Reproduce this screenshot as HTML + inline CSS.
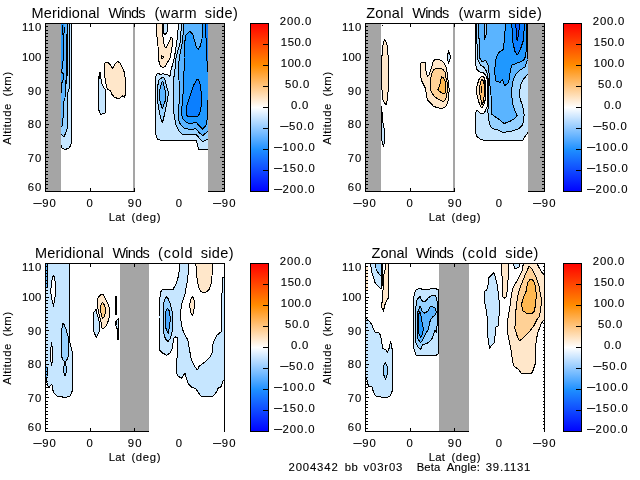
<!DOCTYPE html>
<html lang="en"><head><meta charset="utf-8"><title>Winds</title>
<style>html,body{margin:0;padding:0;background:#fff;overflow:hidden}svg{display:block}text{font-family:'Liberation Sans', sans-serif;fill:#000;stroke:#000;stroke-width:0.12px}.tt{stroke:none}</style></head><body>
<svg width="640" height="480" viewBox="0 0 640 480">
<defs><linearGradient id="cb" x1="0" y1="0" x2="0" y2="1">
<stop offset="0.000" stop-color="rgb(255,0,0)"/>
<stop offset="0.250" stop-color="rgb(255,140,0)"/>
<stop offset="0.500" stop-color="rgb(255,255,255)"/>
<stop offset="0.750" stop-color="rgb(30,144,255)"/>
<stop offset="1.000" stop-color="rgb(0,0,255)"/>
</linearGradient>
<clipPath id="cl0"><rect x="61" y="24" width="73" height="167"/></clipPath>
<clipPath id="cr0"><rect x="135" y="24" width="73" height="168"/></clipPath>
<clipPath id="cl1"><rect x="381" y="24" width="73" height="167"/></clipPath>
<clipPath id="cr1"><rect x="455" y="24" width="73" height="168"/></clipPath>
<clipPath id="cl2"><rect x="46" y="264" width="74" height="167"/></clipPath>
<clipPath id="cr2"><rect x="149" y="264" width="75" height="168"/></clipPath>
<clipPath id="cl3"><rect x="366" y="264" width="73" height="167"/></clipPath>
<clipPath id="cr3"><rect x="469" y="264" width="75" height="168"/></clipPath>
</defs>
<rect x="0" y="0" width="640" height="480" fill="#fff"/>
<g shape-rendering="crispEdges">
<rect x="46" y="24" width="15" height="167" fill="#a5a5a5"/>
<rect x="208" y="24" width="16" height="167" fill="#a5a5a5"/>
<g clip-path="url(#cl0)">
<polygon points="58.0,20.0 71.5,20.0 71.5,142.0 70.5,146.0 68.5,148.5 64.5,149.5 62.0,148.0 61.4,145.0 58.0,145.0" fill="#c6e6ff" stroke="#000" stroke-width="1" stroke-linejoin="bevel"/>
<polygon points="58.0,20.0 69.5,20.0 69.5,88.0 68.0,92.0 67.5,128.0 66.0,132.0 64.0,137.0 62.0,135.0 58.0,133.0" fill="#96d1ff" stroke="#000" stroke-width="1" stroke-linejoin="bevel"/>
<polygon points="58.0,20.0 67.5,20.0 67.5,70.0 66.5,82.0 65.5,86.0 65.0,98.0 63.5,102.0 63.0,118.0 62.0,126.0 58.0,127.0" fill="#5ab4ff" stroke="#000" stroke-width="1" stroke-linejoin="bevel"/>
<polyline points="66.5,34.0 66.5,76.0 65.5,84.0" fill="none" stroke="#000" stroke-width="1" stroke-linejoin="bevel"/>
<polygon points="58.0,20.0 64.5,20.0 64.5,32.4 63.5,34.5 63.5,60.0 62.5,62.0 62.5,68.0 61.5,70.0 61.5,72.0 58.0,72.0" fill="#1f98ff" stroke="#000" stroke-width="1" stroke-linejoin="bevel"/>
<polyline points="62.5,25.0 62.5,34.5" fill="none" stroke="#000" stroke-width="1" stroke-linejoin="bevel"/>
<rect x="64" y="24" width="1" height="3" fill="#4fb0ff"/>
<rect x="64" y="33" width="1" height="1" fill="#4fb0ff"/>
<polygon points="58.0,72.0 62.5,72.0 63.6,75.0 63.5,79.0 62.5,81.0 61.5,84.0 61.5,92.0 58.0,93.0" fill="#2ba0ff" stroke="#000" stroke-width="1" stroke-linejoin="bevel"/>
<polygon points="99.8,72.3 100.8,78.0 102.2,85.0 105.0,89.2 105.7,95.0 105.8,108.0 105.0,113.5 100.5,114.3 98.8,110.0 98.2,100.0 98.3,80.0" fill="#c6e6ff" stroke="#000" stroke-width="1" stroke-linejoin="bevel"/>
<polyline points="99.9,72.5 100.2,79.0" fill="none" stroke="#000" stroke-width="1.6" stroke-linejoin="bevel"/>
<polygon points="104.5,63.9 105.5,62.3 107.3,62.3 109.7,63.9 112.3,68.6 115.3,63.9 117.4,61.4 120.0,63.0 122.3,67.2 124.5,72.8 125.4,79.4 125.6,87.8 125.4,93.4 124.7,97.2 122.8,95.8 120.0,98.1 118.1,98.6 114.4,97.2 112.0,94.4 110.8,91.1 107.3,89.2 105.9,83.1 104.5,75.6 104.1,69.1" fill="#ffe7ca" stroke="#000" stroke-width="1" stroke-linejoin="bevel"/>
</g>
<rect x="45" y="23" width="180" height="1" fill="#000"/>
<rect x="45" y="191" width="180" height="1" fill="#000"/>
<rect x="45" y="23" width="1" height="169" fill="#000"/>
<rect x="224" y="23" width="1" height="169" fill="#000"/>
<rect x="46" y="23" width="3" height="1" fill="#000"/>
<rect x="220" y="23" width="4" height="1" fill="#000"/>
<rect x="46" y="26" width="2" height="1" fill="#000"/>
<rect x="222" y="26" width="2" height="1" fill="#000"/>
<rect x="46" y="30" width="2" height="1" fill="#000"/>
<rect x="222" y="30" width="2" height="1" fill="#000"/>
<rect x="46" y="33" width="2" height="1" fill="#000"/>
<rect x="222" y="33" width="2" height="1" fill="#000"/>
<rect x="46" y="36" width="2" height="1" fill="#000"/>
<rect x="222" y="36" width="2" height="1" fill="#000"/>
<rect x="46" y="40" width="2" height="1" fill="#000"/>
<rect x="222" y="40" width="2" height="1" fill="#000"/>
<rect x="46" y="43" width="2" height="1" fill="#000"/>
<rect x="222" y="43" width="2" height="1" fill="#000"/>
<rect x="46" y="47" width="2" height="1" fill="#000"/>
<rect x="222" y="47" width="2" height="1" fill="#000"/>
<rect x="46" y="50" width="2" height="1" fill="#000"/>
<rect x="222" y="50" width="2" height="1" fill="#000"/>
<rect x="46" y="53" width="2" height="1" fill="#000"/>
<rect x="222" y="53" width="2" height="1" fill="#000"/>
<rect x="46" y="57" width="3" height="1" fill="#000"/>
<rect x="220" y="57" width="4" height="1" fill="#000"/>
<rect x="46" y="60" width="2" height="1" fill="#000"/>
<rect x="222" y="60" width="2" height="1" fill="#000"/>
<rect x="46" y="63" width="2" height="1" fill="#000"/>
<rect x="222" y="63" width="2" height="1" fill="#000"/>
<rect x="46" y="67" width="2" height="1" fill="#000"/>
<rect x="222" y="67" width="2" height="1" fill="#000"/>
<rect x="46" y="70" width="2" height="1" fill="#000"/>
<rect x="222" y="70" width="2" height="1" fill="#000"/>
<rect x="46" y="73" width="2" height="1" fill="#000"/>
<rect x="222" y="73" width="2" height="1" fill="#000"/>
<rect x="46" y="77" width="2" height="1" fill="#000"/>
<rect x="222" y="77" width="2" height="1" fill="#000"/>
<rect x="46" y="80" width="2" height="1" fill="#000"/>
<rect x="222" y="80" width="2" height="1" fill="#000"/>
<rect x="46" y="83" width="2" height="1" fill="#000"/>
<rect x="222" y="83" width="2" height="1" fill="#000"/>
<rect x="46" y="87" width="2" height="1" fill="#000"/>
<rect x="222" y="87" width="2" height="1" fill="#000"/>
<rect x="46" y="90" width="3" height="1" fill="#000"/>
<rect x="220" y="90" width="4" height="1" fill="#000"/>
<rect x="46" y="94" width="2" height="1" fill="#000"/>
<rect x="222" y="94" width="2" height="1" fill="#000"/>
<rect x="46" y="97" width="2" height="1" fill="#000"/>
<rect x="222" y="97" width="2" height="1" fill="#000"/>
<rect x="46" y="100" width="2" height="1" fill="#000"/>
<rect x="222" y="100" width="2" height="1" fill="#000"/>
<rect x="46" y="104" width="2" height="1" fill="#000"/>
<rect x="222" y="104" width="2" height="1" fill="#000"/>
<rect x="46" y="107" width="2" height="1" fill="#000"/>
<rect x="222" y="107" width="2" height="1" fill="#000"/>
<rect x="46" y="110" width="2" height="1" fill="#000"/>
<rect x="222" y="110" width="2" height="1" fill="#000"/>
<rect x="46" y="114" width="2" height="1" fill="#000"/>
<rect x="222" y="114" width="2" height="1" fill="#000"/>
<rect x="46" y="117" width="2" height="1" fill="#000"/>
<rect x="222" y="117" width="2" height="1" fill="#000"/>
<rect x="46" y="120" width="2" height="1" fill="#000"/>
<rect x="222" y="120" width="2" height="1" fill="#000"/>
<rect x="46" y="124" width="3" height="1" fill="#000"/>
<rect x="220" y="124" width="4" height="1" fill="#000"/>
<rect x="46" y="127" width="2" height="1" fill="#000"/>
<rect x="222" y="127" width="2" height="1" fill="#000"/>
<rect x="46" y="131" width="2" height="1" fill="#000"/>
<rect x="222" y="131" width="2" height="1" fill="#000"/>
<rect x="46" y="134" width="2" height="1" fill="#000"/>
<rect x="222" y="134" width="2" height="1" fill="#000"/>
<rect x="46" y="137" width="2" height="1" fill="#000"/>
<rect x="222" y="137" width="2" height="1" fill="#000"/>
<rect x="46" y="141" width="2" height="1" fill="#000"/>
<rect x="222" y="141" width="2" height="1" fill="#000"/>
<rect x="46" y="144" width="2" height="1" fill="#000"/>
<rect x="222" y="144" width="2" height="1" fill="#000"/>
<rect x="46" y="147" width="2" height="1" fill="#000"/>
<rect x="222" y="147" width="2" height="1" fill="#000"/>
<rect x="46" y="151" width="2" height="1" fill="#000"/>
<rect x="222" y="151" width="2" height="1" fill="#000"/>
<rect x="46" y="154" width="2" height="1" fill="#000"/>
<rect x="222" y="154" width="2" height="1" fill="#000"/>
<rect x="46" y="157" width="3" height="1" fill="#000"/>
<rect x="220" y="157" width="4" height="1" fill="#000"/>
<rect x="46" y="161" width="2" height="1" fill="#000"/>
<rect x="222" y="161" width="2" height="1" fill="#000"/>
<rect x="46" y="164" width="2" height="1" fill="#000"/>
<rect x="222" y="164" width="2" height="1" fill="#000"/>
<rect x="46" y="167" width="2" height="1" fill="#000"/>
<rect x="222" y="167" width="2" height="1" fill="#000"/>
<rect x="46" y="171" width="2" height="1" fill="#000"/>
<rect x="222" y="171" width="2" height="1" fill="#000"/>
<rect x="46" y="174" width="2" height="1" fill="#000"/>
<rect x="222" y="174" width="2" height="1" fill="#000"/>
<rect x="46" y="178" width="2" height="1" fill="#000"/>
<rect x="222" y="178" width="2" height="1" fill="#000"/>
<rect x="46" y="181" width="2" height="1" fill="#000"/>
<rect x="222" y="181" width="2" height="1" fill="#000"/>
<rect x="46" y="184" width="2" height="1" fill="#000"/>
<rect x="222" y="184" width="2" height="1" fill="#000"/>
<rect x="46" y="188" width="2" height="1" fill="#000"/>
<rect x="222" y="188" width="2" height="1" fill="#000"/>
<rect x="46" y="191" width="3" height="1" fill="#000"/>
<rect x="220" y="191" width="4" height="1" fill="#000"/>
<rect x="90" y="24" width="1" height="3" fill="#000"/>
<rect x="90" y="188" width="1" height="3" fill="#000"/>
<rect x="179" y="24" width="1" height="3" fill="#000"/>
<rect x="179" y="188" width="1" height="3" fill="#000"/>
<text y="31" font-size="11.3"><tspan x="21.9" textLength="19.4" lengthAdjust="spacing">110</tspan></text>
<text y="61.1" font-size="11.3"><tspan x="21.9" textLength="19.4" lengthAdjust="spacing">100</tspan></text>
<text y="94.6" font-size="11.3"><tspan x="27.7" textLength="13.6" lengthAdjust="spacing">90</tspan></text>
<text y="128.2" font-size="11.3"><tspan x="27.7" textLength="13.6" lengthAdjust="spacing">80</tspan></text>
<text y="161.6" font-size="11.3"><tspan x="27.7" textLength="13.6" lengthAdjust="spacing">70</tspan></text>
<text y="191.4" font-size="11.3"><tspan x="27.7" textLength="13.6" lengthAdjust="spacing">60</tspan></text>
<text y="207.3" font-size="11.3"><tspan x="32.3" dy="-1" textLength="10.7" lengthAdjust="spacingAndGlyphs">-</tspan><tspan x="42.2" dy="1" textLength="13.7" lengthAdjust="spacing">90</tspan></text>
<text y="207.3" font-size="11.3"><tspan x="86.4" textLength="6.8" lengthAdjust="spacing">0</tspan></text>
<text y="207.3" font-size="11.3"><tspan x="127.7" textLength="13.8" lengthAdjust="spacing">90</tspan></text>
<text y="207.3" font-size="11.3"><tspan x="175.7" textLength="6.8" lengthAdjust="spacing">0</tspan></text>
<text y="207.3" font-size="11.3"><tspan x="211.9" dy="-1" textLength="10.7" lengthAdjust="spacingAndGlyphs">-</tspan><tspan x="221.8" dy="1" textLength="13.7" lengthAdjust="spacing">90</tspan></text>
<text y="221" font-size="11.3"><tspan x="108.8" textLength="16.2" lengthAdjust="spacing">Lat</tspan> <tspan x="131.4" textLength="29.2" lengthAdjust="spacing">(deg)</tspan></text>
<text transform="translate(10.7 144.8) rotate(-90)" y="0" font-size="11.3"><tspan x="0.0" textLength="41.0" lengthAdjust="spacing">Altitude</tspan> <tspan x="48.2" textLength="24.8" lengthAdjust="spacing">(km)</tspan></text>
<text class="tt" y="18" font-size="14.5"><tspan x="31.6" textLength="68.0" lengthAdjust="spacing">Meridional</tspan> <tspan x="108.5" textLength="37.0" lengthAdjust="spacing">Winds</tspan> <tspan x="154.6" textLength="42.0" lengthAdjust="spacing">(warm</tspan> <tspan x="204.8" textLength="33.0" lengthAdjust="spacing">side)</tspan></text>
<rect x="135" y="24" width="73" height="168" fill="#fff"/>
<g clip-path="url(#cr0)">
<polygon points="179.0,20.0 176.7,43.0 174.3,58.0 170.8,71.0 170.0,76.4 168.2,75.0 163.4,73.8 160.8,74.2 158.1,73.8 156.4,74.2 155.5,78.0 155.6,134.0 157.5,139.6 162.5,140.5 196.2,140.7 197.5,145.0 199.0,149.6 212.0,149.6 212.0,20.0" fill="#c6e6ff" stroke="#000" stroke-width="1" stroke-linejoin="bevel"/>
<polygon points="182.0,20.0 180.0,43.0 176.0,58.0 174.8,71.0 173.4,80.8 173.0,87.0 173.0,100.0 173.5,108.8 174.4,117.5 176.1,125.4 178.8,130.6 182.2,134.1 189.2,135.0 196.2,134.6 198.9,137.6 202.8,141.8 206.2,140.0 212.0,138.5 212.0,20.0" fill="#96d1ff" stroke="#000" stroke-width="1" stroke-linejoin="bevel"/>
<polygon points="184.3,20.0 182.3,43.0 179.1,58.0 178.7,71.0 179.0,80.0 179.4,100.0 178.5,108.8 178.8,120.0 180.0,123.6 184.0,128.0 189.2,129.3 196.2,128.9 198.9,132.4 202.8,135.8 206.8,132.0 212.0,129.8 212.0,20.0" fill="#5ab4ff" stroke="#000" stroke-width="1" stroke-linejoin="bevel"/>
<polygon points="202.5,20.0 202.0,38.8 200.2,46.2 198.3,49.5 196.4,47.2 194.5,40.6 192.7,34.0 189.8,31.2 186.0,35.0 184.5,43.4 184.0,58.0 184.0,71.0 183.5,80.0 182.8,100.0 181.6,108.8 181.6,114.9 183.1,119.2 186.6,122.8 191.0,123.6 196.2,122.3 198.9,125.4 202.4,129.2 205.9,125.4 207.6,117.5 212.0,113.0 212.0,20.0" fill="#1f98ff" stroke="#000" stroke-width="1" stroke-linejoin="bevel"/>
<polygon points="205.6,20.0 206.2,45.0 207.5,71.0 212.0,74.0 212.0,20.0" fill="#0b7fff" stroke="#000" stroke-width="1" stroke-linejoin="bevel"/>
<polyline points="207.6,100.0 207.6,117.0" fill="none" stroke="#000" stroke-width="1" stroke-linejoin="bevel"/>
<polygon points="196.9,79.4 193.8,85.0 190.0,96.2 187.0,105.0 186.6,114.9 187.9,116.6 191.0,117.0 198.0,116.2 199.8,113.0 201.0,107.0 201.6,100.0 200.8,87.5 199.4,81.2 198.0,79.4" fill="#0b7fff" stroke="#000" stroke-width="1" stroke-linejoin="bevel"/>
<polygon points="162.5,77.2 159.0,79.9 157.7,86.0 157.4,100.0 159.4,112.5 161.9,122.2 162.6,122.2 165.0,112.5 167.5,100.0 168.5,92.5 166.4,86.0 165.1,79.9 163.5,77.5" fill="#96d1ff" stroke="#000" stroke-width="1" stroke-linejoin="bevel"/>
<polygon points="162.3,81.6 160.3,86.9 159.5,93.0 159.7,100.0 162.3,108.8 165.6,100.0 166.0,93.0 164.2,86.9 163.0,82.0" fill="#5ab4ff" stroke="#000" stroke-width="1" stroke-linejoin="bevel"/>
<polygon points="156.6,20.0 156.6,35.0 157.5,38.8 158.0,46.2 158.4,57.5 159.4,64.0 160.5,66.5 162.5,67.4 165.0,66.6 166.9,63.0 168.3,61.2 170.2,57.5 171.6,50.0 172.5,43.4 172.5,38.8 171.1,37.3 168.8,42.5 166.4,47.2 165.0,47.2 163.6,42.5 162.7,34.0 162.6,20.0" fill="#ffe7ca" stroke="#000" stroke-width="1" stroke-linejoin="bevel"/>
<polygon points="161.5,55.8 163.2,56.2 163.6,57.6 162.4,58.6 161.0,57.6" fill="#ffe7ca" stroke="#000" stroke-width="1" stroke-linejoin="bevel"/>
<polygon points="163.3,20.0 163.4,33.0 165.0,34.5 167.3,32.0 167.6,20.0" fill="#c6e6ff" stroke="#000" stroke-width="1" stroke-linejoin="bevel"/>
</g>
<rect x="133" y="24" width="2" height="167" fill="#a5a5a5"/>
<rect x="134" y="24" width="1" height="3" fill="#000"/>
<rect x="134" y="188" width="1" height="3" fill="#000"/>
</g>
<g shape-rendering="crispEdges">
<rect x="366" y="24" width="15" height="167" fill="#a5a5a5"/>
<rect x="528" y="24" width="16" height="167" fill="#a5a5a5"/>
<g clip-path="url(#cl1)">
<polygon points="384.4,39.4 382.5,47.5 381.9,57.5 381.6,80.0 382.0,90.0 382.6,98.8 384.5,103.0 386.2,105.2 387.5,98.8 388.2,90.0 388.9,80.0 388.8,63.8 388.0,55.0 386.9,43.8 385.5,40.5" fill="#ffe7ca" stroke="#000" stroke-width="1" stroke-linejoin="bevel"/>
<polygon points="381.7,106.0 381.7,120.0 381.8,140.0 382.5,143.0 383.6,146.5 384.6,140.0 384.4,130.0 383.0,123.0 382.3,118.0" fill="#c6e6ff" stroke="#000" stroke-width="1" stroke-linejoin="bevel"/>
<polyline points="382.3,25.0 383.0,26.0" fill="none" stroke="#000" stroke-width="1.4" stroke-linejoin="bevel"/>
<polygon points="448.4,50.5 447.5,57.5 448.4,64.0 450.8,57.0" fill="#c6e6ff" stroke="#000" stroke-width="1" stroke-linejoin="bevel"/>
<polygon points="420.3,64.1 421.7,62.4 425.0,62.4 425.5,65.0 425.9,70.6 427.3,76.2 428.8,75.3 431.1,68.8 433.0,62.2 434.8,59.4 438.1,59.4 441.9,60.8 444.7,64.0 446.6,68.8 447.5,76.2 448.4,82.8 449.2,90.0 448.9,94.0 448.0,100.6 446.6,105.3 444.7,107.7 440.9,108.3 437.2,107.7 433.4,106.2 430.2,102.5 427.3,99.7 426.4,94.0 425.0,87.5 422.7,82.8 421.7,81.0 420.3,75.3" fill="#ffe7ca" stroke="#000" stroke-width="1" stroke-linejoin="bevel"/>
<polygon points="430.2,81.0 431.6,74.4 433.4,69.7 435.3,68.8 440.0,68.3 442.8,69.2 445.2,72.5 446.1,78.1 447.3,82.8 447.6,88.0 447.0,93.1 446.1,97.8 444.2,101.1 441.9,101.1 439.1,99.7 434.8,96.9 432.0,93.1 430.2,89.4" fill="#ffd196" stroke="#000" stroke-width="1" stroke-linejoin="bevel"/>
<polygon points="441.4,76.7 440.5,81.9 439.5,85.6 437.9,89.8 440.0,91.7 442.8,93.6 444.7,94.0 445.6,90.3 445.8,84.0 445.2,81.9 443.8,78.1" fill="#ffb850" stroke="#000" stroke-width="1" stroke-linejoin="bevel"/>
</g>
<rect x="365" y="23" width="180" height="1" fill="#000"/>
<rect x="365" y="191" width="180" height="1" fill="#000"/>
<rect x="365" y="23" width="1" height="169" fill="#000"/>
<rect x="544" y="23" width="1" height="169" fill="#000"/>
<rect x="366" y="23" width="3" height="1" fill="#000"/>
<rect x="540" y="23" width="4" height="1" fill="#000"/>
<rect x="366" y="26" width="2" height="1" fill="#000"/>
<rect x="542" y="26" width="2" height="1" fill="#000"/>
<rect x="366" y="30" width="2" height="1" fill="#000"/>
<rect x="542" y="30" width="2" height="1" fill="#000"/>
<rect x="366" y="33" width="2" height="1" fill="#000"/>
<rect x="542" y="33" width="2" height="1" fill="#000"/>
<rect x="366" y="36" width="2" height="1" fill="#000"/>
<rect x="542" y="36" width="2" height="1" fill="#000"/>
<rect x="366" y="40" width="2" height="1" fill="#000"/>
<rect x="542" y="40" width="2" height="1" fill="#000"/>
<rect x="366" y="43" width="2" height="1" fill="#000"/>
<rect x="542" y="43" width="2" height="1" fill="#000"/>
<rect x="366" y="47" width="2" height="1" fill="#000"/>
<rect x="542" y="47" width="2" height="1" fill="#000"/>
<rect x="366" y="50" width="2" height="1" fill="#000"/>
<rect x="542" y="50" width="2" height="1" fill="#000"/>
<rect x="366" y="53" width="2" height="1" fill="#000"/>
<rect x="542" y="53" width="2" height="1" fill="#000"/>
<rect x="366" y="57" width="3" height="1" fill="#000"/>
<rect x="540" y="57" width="4" height="1" fill="#000"/>
<rect x="366" y="60" width="2" height="1" fill="#000"/>
<rect x="542" y="60" width="2" height="1" fill="#000"/>
<rect x="366" y="63" width="2" height="1" fill="#000"/>
<rect x="542" y="63" width="2" height="1" fill="#000"/>
<rect x="366" y="67" width="2" height="1" fill="#000"/>
<rect x="542" y="67" width="2" height="1" fill="#000"/>
<rect x="366" y="70" width="2" height="1" fill="#000"/>
<rect x="542" y="70" width="2" height="1" fill="#000"/>
<rect x="366" y="73" width="2" height="1" fill="#000"/>
<rect x="542" y="73" width="2" height="1" fill="#000"/>
<rect x="366" y="77" width="2" height="1" fill="#000"/>
<rect x="542" y="77" width="2" height="1" fill="#000"/>
<rect x="366" y="80" width="2" height="1" fill="#000"/>
<rect x="542" y="80" width="2" height="1" fill="#000"/>
<rect x="366" y="83" width="2" height="1" fill="#000"/>
<rect x="542" y="83" width="2" height="1" fill="#000"/>
<rect x="366" y="87" width="2" height="1" fill="#000"/>
<rect x="542" y="87" width="2" height="1" fill="#000"/>
<rect x="366" y="90" width="3" height="1" fill="#000"/>
<rect x="540" y="90" width="4" height="1" fill="#000"/>
<rect x="366" y="94" width="2" height="1" fill="#000"/>
<rect x="542" y="94" width="2" height="1" fill="#000"/>
<rect x="366" y="97" width="2" height="1" fill="#000"/>
<rect x="542" y="97" width="2" height="1" fill="#000"/>
<rect x="366" y="100" width="2" height="1" fill="#000"/>
<rect x="542" y="100" width="2" height="1" fill="#000"/>
<rect x="366" y="104" width="2" height="1" fill="#000"/>
<rect x="542" y="104" width="2" height="1" fill="#000"/>
<rect x="366" y="107" width="2" height="1" fill="#000"/>
<rect x="542" y="107" width="2" height="1" fill="#000"/>
<rect x="366" y="110" width="2" height="1" fill="#000"/>
<rect x="542" y="110" width="2" height="1" fill="#000"/>
<rect x="366" y="114" width="2" height="1" fill="#000"/>
<rect x="542" y="114" width="2" height="1" fill="#000"/>
<rect x="366" y="117" width="2" height="1" fill="#000"/>
<rect x="542" y="117" width="2" height="1" fill="#000"/>
<rect x="366" y="120" width="2" height="1" fill="#000"/>
<rect x="542" y="120" width="2" height="1" fill="#000"/>
<rect x="366" y="124" width="3" height="1" fill="#000"/>
<rect x="540" y="124" width="4" height="1" fill="#000"/>
<rect x="366" y="127" width="2" height="1" fill="#000"/>
<rect x="542" y="127" width="2" height="1" fill="#000"/>
<rect x="366" y="131" width="2" height="1" fill="#000"/>
<rect x="542" y="131" width="2" height="1" fill="#000"/>
<rect x="366" y="134" width="2" height="1" fill="#000"/>
<rect x="542" y="134" width="2" height="1" fill="#000"/>
<rect x="366" y="137" width="2" height="1" fill="#000"/>
<rect x="542" y="137" width="2" height="1" fill="#000"/>
<rect x="366" y="141" width="2" height="1" fill="#000"/>
<rect x="542" y="141" width="2" height="1" fill="#000"/>
<rect x="366" y="144" width="2" height="1" fill="#000"/>
<rect x="542" y="144" width="2" height="1" fill="#000"/>
<rect x="366" y="147" width="2" height="1" fill="#000"/>
<rect x="542" y="147" width="2" height="1" fill="#000"/>
<rect x="366" y="151" width="2" height="1" fill="#000"/>
<rect x="542" y="151" width="2" height="1" fill="#000"/>
<rect x="366" y="154" width="2" height="1" fill="#000"/>
<rect x="542" y="154" width="2" height="1" fill="#000"/>
<rect x="366" y="157" width="3" height="1" fill="#000"/>
<rect x="540" y="157" width="4" height="1" fill="#000"/>
<rect x="366" y="161" width="2" height="1" fill="#000"/>
<rect x="542" y="161" width="2" height="1" fill="#000"/>
<rect x="366" y="164" width="2" height="1" fill="#000"/>
<rect x="542" y="164" width="2" height="1" fill="#000"/>
<rect x="366" y="167" width="2" height="1" fill="#000"/>
<rect x="542" y="167" width="2" height="1" fill="#000"/>
<rect x="366" y="171" width="2" height="1" fill="#000"/>
<rect x="542" y="171" width="2" height="1" fill="#000"/>
<rect x="366" y="174" width="2" height="1" fill="#000"/>
<rect x="542" y="174" width="2" height="1" fill="#000"/>
<rect x="366" y="178" width="2" height="1" fill="#000"/>
<rect x="542" y="178" width="2" height="1" fill="#000"/>
<rect x="366" y="181" width="2" height="1" fill="#000"/>
<rect x="542" y="181" width="2" height="1" fill="#000"/>
<rect x="366" y="184" width="2" height="1" fill="#000"/>
<rect x="542" y="184" width="2" height="1" fill="#000"/>
<rect x="366" y="188" width="2" height="1" fill="#000"/>
<rect x="542" y="188" width="2" height="1" fill="#000"/>
<rect x="366" y="191" width="3" height="1" fill="#000"/>
<rect x="540" y="191" width="4" height="1" fill="#000"/>
<rect x="410" y="24" width="1" height="3" fill="#000"/>
<rect x="410" y="188" width="1" height="3" fill="#000"/>
<rect x="499" y="24" width="1" height="3" fill="#000"/>
<rect x="499" y="188" width="1" height="3" fill="#000"/>
<text y="31" font-size="11.3"><tspan x="341.9" textLength="19.4" lengthAdjust="spacing">110</tspan></text>
<text y="61.1" font-size="11.3"><tspan x="341.9" textLength="19.4" lengthAdjust="spacing">100</tspan></text>
<text y="94.6" font-size="11.3"><tspan x="347.7" textLength="13.6" lengthAdjust="spacing">90</tspan></text>
<text y="128.2" font-size="11.3"><tspan x="347.7" textLength="13.6" lengthAdjust="spacing">80</tspan></text>
<text y="161.6" font-size="11.3"><tspan x="347.7" textLength="13.6" lengthAdjust="spacing">70</tspan></text>
<text y="191.4" font-size="11.3"><tspan x="347.7" textLength="13.6" lengthAdjust="spacing">60</tspan></text>
<text y="207.3" font-size="11.3"><tspan x="352.3" dy="-1" textLength="10.7" lengthAdjust="spacingAndGlyphs">-</tspan><tspan x="362.2" dy="1" textLength="13.7" lengthAdjust="spacing">90</tspan></text>
<text y="207.3" font-size="11.3"><tspan x="406.4" textLength="6.8" lengthAdjust="spacing">0</tspan></text>
<text y="207.3" font-size="11.3"><tspan x="447.7" textLength="13.8" lengthAdjust="spacing">90</tspan></text>
<text y="207.3" font-size="11.3"><tspan x="495.7" textLength="6.8" lengthAdjust="spacing">0</tspan></text>
<text y="207.3" font-size="11.3"><tspan x="531.9" dy="-1" textLength="10.7" lengthAdjust="spacingAndGlyphs">-</tspan><tspan x="541.8" dy="1" textLength="13.7" lengthAdjust="spacing">90</tspan></text>
<text y="221" font-size="11.3"><tspan x="428.8" textLength="16.2" lengthAdjust="spacing">Lat</tspan> <tspan x="451.4" textLength="29.2" lengthAdjust="spacing">(deg)</tspan></text>
<text transform="translate(330.7 144.8) rotate(-90)" y="0" font-size="11.3"><tspan x="0.0" textLength="41.0" lengthAdjust="spacing">Altitude</tspan> <tspan x="48.2" textLength="24.8" lengthAdjust="spacing">(km)</tspan></text>
<text class="tt" y="18" font-size="14.5"><tspan x="366.2" textLength="37.2" lengthAdjust="spacing">Zonal</tspan> <tspan x="412.3" textLength="37.0" lengthAdjust="spacing">Winds</tspan> <tspan x="458.6" textLength="42.0" lengthAdjust="spacing">(warm</tspan> <tspan x="508.3" textLength="33.6" lengthAdjust="spacing">side)</tspan></text>
<rect x="455" y="24" width="73" height="168" fill="#fff"/>
<g clip-path="url(#cr1)">
<polygon points="475.5,20.0 475.5,59.0 476.2,68.4 478.9,71.6 483.6,73.0 485.5,75.0 487.2,79.0 487.6,95.0 487.3,106.0 486.0,109.0 484.4,113.0 479.7,113.0 477.3,109.8 475.8,112.2 475.3,115.3 475.3,132.5 477.3,137.2 481.2,139.5 484.4,140.5 522.7,140.5 525.0,136.4 527.3,133.3 532.0,126.0 532.0,20.0" fill="#c6e6ff" stroke="#000" stroke-width="1" stroke-linejoin="bevel"/>
<polygon points="476.5,20.0 476.6,43.0 477.5,45.0 477.6,59.0 480.5,65.3 483.6,66.9 486.7,71.5 488.0,77.8 488.6,85.6 488.6,100.0 487.9,110.6 488.3,118.4 489.8,124.7 492.2,128.6 498.4,130.0 503.0,132.5 512.5,131.0 518.8,128.6 522.7,124.7 524.2,115.3 522.7,106.0 520.3,99.7 519.5,95.0 520.3,85.6 523.4,79.4 527.3,74.7 532.0,74.0 532.0,20.0" fill="#96d1ff" stroke="#000" stroke-width="1" stroke-linejoin="bevel"/>
<polygon points="478.5,20.0 478.6,37.0 479.4,40.0 479.4,57.5 482.0,61.4 486.0,60.6 488.3,65.3 489.2,74.7 490.0,85.6 491.0,95.0 491.4,113.8 495.3,116.9 500.0,120.0 504.0,123.6 511.0,120.8 514.8,118.4 517.2,115.3 514.8,110.6 512.5,102.8 511.7,95.0 511.7,88.8 513.3,79.4 515.6,74.7 520.3,70.0 525.0,66.9 527.3,60.6 532.0,60.0 532.0,20.0" fill="#5ab4ff" stroke="#000" stroke-width="1" stroke-linejoin="bevel"/>
<polygon points="505.5,20.0 504.7,38.8 503.0,49.7 498.4,52.8 496.0,59.0 494.5,71.5 496.0,81.0 500.0,82.5 502.3,79.4 504.7,85.6 508.6,82.5 510.0,73.0 511.7,65.3 517.0,63.0 523.4,60.6 525.8,56.0 526.5,43.4 526.8,20.0" fill="#1f98ff" stroke="#000" stroke-width="1" stroke-linejoin="bevel"/>
<polygon points="511.7,20.0 512.5,40.3 514.8,51.2 517.2,55.2 520.3,49.7 523.4,40.3 524.7,20.0" fill="#0b7fff" stroke="#000" stroke-width="1" stroke-linejoin="bevel"/>
<polygon points="515.6,20.0 516.4,35.6 517.2,41.0 518.8,34.0 519.5,20.0" fill="#0a5cff" stroke="#000" stroke-width="1" stroke-linejoin="bevel"/>
<polygon points="484.0,20.0 484.0,33.0 484.6,39.7 486.0,35.0 486.7,30.0 486.7,20.0" fill="#96d1ff" stroke="#000" stroke-width="1" stroke-linejoin="bevel"/>
<polyline points="527.3,20.0 527.3,59.0" fill="none" stroke="#000" stroke-width="1.4" stroke-linejoin="bevel"/>
<polygon points="481.5,76.0 479.0,79.5 477.5,84.0 476.6,88.0 476.8,94.0 478.0,99.0 479.3,103.5 481.0,107.0 482.4,107.6 484.0,104.0 485.5,98.0 486.0,90.0 485.5,82.0 484.0,77.5 482.8,76.0" fill="#ffe7ca" stroke="#000" stroke-width="1" stroke-linejoin="bevel"/>
<polygon points="481.8,78.8 480.3,83.0 479.6,88.0 479.8,94.0 480.8,99.5 482.0,104.5 483.3,102.0 484.2,96.0 484.4,88.0 483.8,81.5" fill="#ffc070" stroke="#000" stroke-width="1" stroke-linejoin="bevel"/>
<polyline points="481.5,85.5 481.5,93.0" fill="none" stroke="#000" stroke-width="1" stroke-linejoin="bevel"/>
<polyline points="484.9,80.0 485.1,101.0" fill="none" stroke="#000" stroke-width="1" stroke-linejoin="bevel"/>
</g>
<rect x="453" y="24" width="2" height="167" fill="#a5a5a5"/>
<rect x="454" y="24" width="1" height="3" fill="#000"/>
<rect x="454" y="188" width="1" height="3" fill="#000"/>
</g>
<g shape-rendering="crispEdges">
<rect x="120" y="264" width="29" height="167" fill="#a5a5a5"/>
<g clip-path="url(#cl2)">
<polygon points="42.0,260.0 69.5,260.0 69.7,342.0 72.4,352.5 72.5,390.0 71.2,393.8 70.0,396.2 65.0,397.4 57.5,396.2 53.8,393.0 52.5,388.8 51.9,384.4 50.0,386.2 48.8,388.0 46.9,382.5 46.4,377.5 42.0,370.0" fill="#c6e6ff" stroke="#000" stroke-width="1" stroke-linejoin="bevel"/>
<rect x="46" y="264" width="1" height="23" fill="#5ab4ff"/>
<rect x="47" y="264" width="1" height="24" fill="#000"/>
<rect x="46" y="366" width="1" height="11" fill="#5ab4ff"/>
<rect x="47" y="368" width="1" height="8" fill="#000"/>
<polygon points="53.3,275.0 51.6,282.0 50.8,290.0 51.2,298.0 52.6,302.0 53.4,306.5 54.6,300.0 55.6,292.0 55.4,283.0 54.2,277.0" fill="#fff" stroke="#000" stroke-width="1" stroke-linejoin="bevel"/>
<polygon points="51.5,342.5 50.7,350.0 50.7,360.0 51.5,366.0 52.4,360.0 52.5,350.0" fill="#fff" stroke="#000" stroke-width="1" stroke-linejoin="bevel"/>
<polygon points="63.0,323.0 61.8,329.0 61.2,335.0 61.2,355.0 62.5,359.0 65.0,362.8 67.4,359.0 68.8,355.0 68.6,345.0 68.0,336.0 66.0,329.0 64.0,324.5" fill="#96d1ff" stroke="#000" stroke-width="1" stroke-linejoin="bevel"/>
<polygon points="65.0,363.5 63.4,368.0 63.2,371.0 65.0,376.0 66.7,371.0 66.6,368.0" fill="#96d1ff" stroke="#000" stroke-width="1" stroke-linejoin="bevel"/>
<polyline points="65.0,361.0 65.0,365.0" fill="none" stroke="#000" stroke-width="1.6" stroke-linejoin="bevel"/>
<polygon points="101.4,294.4 98.1,297.2 97.2,303.8 98.1,309.4 99.5,316.0 101.0,321.5 101.4,326.2 102.3,329.0 103.8,328.0 106.5,325.3 108.4,320.6 109.8,315.0 109.8,309.4 108.0,303.8 104.7,297.2 103.0,294.6" fill="#ffe7ca" stroke="#000" stroke-width="1" stroke-linejoin="bevel"/>
<polygon points="102.3,301.9 100.5,306.5 100.9,313.0 102.3,318.3 103.4,318.0 104.7,316.0 105.6,310.3 104.7,305.6" fill="#ffcc84" stroke="#000" stroke-width="1" stroke-linejoin="bevel"/>
<polygon points="96.2,309.4 93.9,312.2 93.4,330.0 94.0,332.0 96.2,337.5 99.0,332.0 100.0,326.2 99.0,320.6 96.7,313.0" fill="#c6e6ff" stroke="#000" stroke-width="1" stroke-linejoin="bevel"/>
<polyline points="116.0,296.2 116.0,314.5" fill="none" stroke="#000" stroke-width="2" stroke-linejoin="bevel"/>
<polygon points="118.5,318.3 115.5,321.5 116.3,328.0 117.6,328.5 118.6,328.0" fill="#c6e6ff" stroke="#000" stroke-width="1" stroke-linejoin="bevel"/>
<polyline points="117.9,328.0 117.9,340.0" fill="none" stroke="#000" stroke-width="1.8" stroke-linejoin="bevel"/>
<polyline points="115.6,320.5 116.0,325.0" fill="none" stroke="#000" stroke-width="1.8" stroke-linejoin="bevel"/>
</g>
<rect x="45" y="263" width="180" height="1" fill="#000"/>
<rect x="45" y="431" width="180" height="1" fill="#000"/>
<rect x="45" y="263" width="1" height="169" fill="#000"/>
<rect x="224" y="263" width="1" height="169" fill="#000"/>
<rect x="46" y="263" width="3" height="1" fill="#000"/>
<rect x="220" y="263" width="4" height="1" fill="#000"/>
<rect x="46" y="266" width="2" height="1" fill="#000"/>
<rect x="222" y="266" width="2" height="1" fill="#000"/>
<rect x="46" y="270" width="2" height="1" fill="#000"/>
<rect x="222" y="270" width="2" height="1" fill="#000"/>
<rect x="46" y="273" width="2" height="1" fill="#000"/>
<rect x="222" y="273" width="2" height="1" fill="#000"/>
<rect x="46" y="276" width="2" height="1" fill="#000"/>
<rect x="222" y="276" width="2" height="1" fill="#000"/>
<rect x="46" y="280" width="2" height="1" fill="#000"/>
<rect x="222" y="280" width="2" height="1" fill="#000"/>
<rect x="46" y="283" width="2" height="1" fill="#000"/>
<rect x="222" y="283" width="2" height="1" fill="#000"/>
<rect x="46" y="287" width="2" height="1" fill="#000"/>
<rect x="222" y="287" width="2" height="1" fill="#000"/>
<rect x="46" y="290" width="2" height="1" fill="#000"/>
<rect x="222" y="290" width="2" height="1" fill="#000"/>
<rect x="46" y="293" width="2" height="1" fill="#000"/>
<rect x="222" y="293" width="2" height="1" fill="#000"/>
<rect x="46" y="297" width="3" height="1" fill="#000"/>
<rect x="220" y="297" width="4" height="1" fill="#000"/>
<rect x="46" y="300" width="2" height="1" fill="#000"/>
<rect x="222" y="300" width="2" height="1" fill="#000"/>
<rect x="46" y="303" width="2" height="1" fill="#000"/>
<rect x="222" y="303" width="2" height="1" fill="#000"/>
<rect x="46" y="307" width="2" height="1" fill="#000"/>
<rect x="222" y="307" width="2" height="1" fill="#000"/>
<rect x="46" y="310" width="2" height="1" fill="#000"/>
<rect x="222" y="310" width="2" height="1" fill="#000"/>
<rect x="46" y="313" width="2" height="1" fill="#000"/>
<rect x="222" y="313" width="2" height="1" fill="#000"/>
<rect x="46" y="317" width="2" height="1" fill="#000"/>
<rect x="222" y="317" width="2" height="1" fill="#000"/>
<rect x="46" y="320" width="2" height="1" fill="#000"/>
<rect x="222" y="320" width="2" height="1" fill="#000"/>
<rect x="46" y="323" width="2" height="1" fill="#000"/>
<rect x="222" y="323" width="2" height="1" fill="#000"/>
<rect x="46" y="327" width="2" height="1" fill="#000"/>
<rect x="222" y="327" width="2" height="1" fill="#000"/>
<rect x="46" y="330" width="3" height="1" fill="#000"/>
<rect x="220" y="330" width="4" height="1" fill="#000"/>
<rect x="46" y="334" width="2" height="1" fill="#000"/>
<rect x="222" y="334" width="2" height="1" fill="#000"/>
<rect x="46" y="337" width="2" height="1" fill="#000"/>
<rect x="222" y="337" width="2" height="1" fill="#000"/>
<rect x="46" y="340" width="2" height="1" fill="#000"/>
<rect x="222" y="340" width="2" height="1" fill="#000"/>
<rect x="46" y="344" width="2" height="1" fill="#000"/>
<rect x="222" y="344" width="2" height="1" fill="#000"/>
<rect x="46" y="347" width="2" height="1" fill="#000"/>
<rect x="222" y="347" width="2" height="1" fill="#000"/>
<rect x="46" y="350" width="2" height="1" fill="#000"/>
<rect x="222" y="350" width="2" height="1" fill="#000"/>
<rect x="46" y="354" width="2" height="1" fill="#000"/>
<rect x="222" y="354" width="2" height="1" fill="#000"/>
<rect x="46" y="357" width="2" height="1" fill="#000"/>
<rect x="222" y="357" width="2" height="1" fill="#000"/>
<rect x="46" y="360" width="2" height="1" fill="#000"/>
<rect x="222" y="360" width="2" height="1" fill="#000"/>
<rect x="46" y="364" width="3" height="1" fill="#000"/>
<rect x="220" y="364" width="4" height="1" fill="#000"/>
<rect x="46" y="367" width="2" height="1" fill="#000"/>
<rect x="222" y="367" width="2" height="1" fill="#000"/>
<rect x="46" y="371" width="2" height="1" fill="#000"/>
<rect x="222" y="371" width="2" height="1" fill="#000"/>
<rect x="46" y="374" width="2" height="1" fill="#000"/>
<rect x="222" y="374" width="2" height="1" fill="#000"/>
<rect x="46" y="377" width="2" height="1" fill="#000"/>
<rect x="222" y="377" width="2" height="1" fill="#000"/>
<rect x="46" y="381" width="2" height="1" fill="#000"/>
<rect x="222" y="381" width="2" height="1" fill="#000"/>
<rect x="46" y="384" width="2" height="1" fill="#000"/>
<rect x="222" y="384" width="2" height="1" fill="#000"/>
<rect x="46" y="387" width="2" height="1" fill="#000"/>
<rect x="222" y="387" width="2" height="1" fill="#000"/>
<rect x="46" y="391" width="2" height="1" fill="#000"/>
<rect x="222" y="391" width="2" height="1" fill="#000"/>
<rect x="46" y="394" width="2" height="1" fill="#000"/>
<rect x="222" y="394" width="2" height="1" fill="#000"/>
<rect x="46" y="397" width="3" height="1" fill="#000"/>
<rect x="220" y="397" width="4" height="1" fill="#000"/>
<rect x="46" y="401" width="2" height="1" fill="#000"/>
<rect x="222" y="401" width="2" height="1" fill="#000"/>
<rect x="46" y="404" width="2" height="1" fill="#000"/>
<rect x="222" y="404" width="2" height="1" fill="#000"/>
<rect x="46" y="407" width="2" height="1" fill="#000"/>
<rect x="222" y="407" width="2" height="1" fill="#000"/>
<rect x="46" y="411" width="2" height="1" fill="#000"/>
<rect x="222" y="411" width="2" height="1" fill="#000"/>
<rect x="46" y="414" width="2" height="1" fill="#000"/>
<rect x="222" y="414" width="2" height="1" fill="#000"/>
<rect x="46" y="418" width="2" height="1" fill="#000"/>
<rect x="222" y="418" width="2" height="1" fill="#000"/>
<rect x="46" y="421" width="2" height="1" fill="#000"/>
<rect x="222" y="421" width="2" height="1" fill="#000"/>
<rect x="46" y="424" width="2" height="1" fill="#000"/>
<rect x="222" y="424" width="2" height="1" fill="#000"/>
<rect x="46" y="428" width="2" height="1" fill="#000"/>
<rect x="222" y="428" width="2" height="1" fill="#000"/>
<rect x="46" y="431" width="3" height="1" fill="#000"/>
<rect x="220" y="431" width="4" height="1" fill="#000"/>
<rect x="90" y="264" width="1" height="3" fill="#000"/>
<rect x="90" y="428" width="1" height="3" fill="#000"/>
<rect x="179" y="264" width="1" height="3" fill="#000"/>
<rect x="179" y="428" width="1" height="3" fill="#000"/>
<text y="271" font-size="11.3"><tspan x="21.9" textLength="19.4" lengthAdjust="spacing">110</tspan></text>
<text y="301.1" font-size="11.3"><tspan x="21.9" textLength="19.4" lengthAdjust="spacing">100</tspan></text>
<text y="334.6" font-size="11.3"><tspan x="27.7" textLength="13.6" lengthAdjust="spacing">90</tspan></text>
<text y="368.2" font-size="11.3"><tspan x="27.7" textLength="13.6" lengthAdjust="spacing">80</tspan></text>
<text y="401.6" font-size="11.3"><tspan x="27.7" textLength="13.6" lengthAdjust="spacing">70</tspan></text>
<text y="431.4" font-size="11.3"><tspan x="27.7" textLength="13.6" lengthAdjust="spacing">60</tspan></text>
<text y="447.3" font-size="11.3"><tspan x="32.3" dy="-1" textLength="10.7" lengthAdjust="spacingAndGlyphs">-</tspan><tspan x="42.2" dy="1" textLength="13.7" lengthAdjust="spacing">90</tspan></text>
<text y="447.3" font-size="11.3"><tspan x="86.4" textLength="6.8" lengthAdjust="spacing">0</tspan></text>
<text y="447.3" font-size="11.3"><tspan x="127.7" textLength="13.8" lengthAdjust="spacing">90</tspan></text>
<text y="447.3" font-size="11.3"><tspan x="175.7" textLength="6.8" lengthAdjust="spacing">0</tspan></text>
<text y="447.3" font-size="11.3"><tspan x="211.9" dy="-1" textLength="10.7" lengthAdjust="spacingAndGlyphs">-</tspan><tspan x="221.8" dy="1" textLength="13.7" lengthAdjust="spacing">90</tspan></text>
<text y="461" font-size="11.3"><tspan x="108.8" textLength="16.2" lengthAdjust="spacing">Lat</tspan> <tspan x="131.4" textLength="29.2" lengthAdjust="spacing">(deg)</tspan></text>
<text transform="translate(10.7 384.8) rotate(-90)" y="0" font-size="11.3"><tspan x="0.0" textLength="41.0" lengthAdjust="spacing">Altitude</tspan> <tspan x="48.2" textLength="24.8" lengthAdjust="spacing">(km)</tspan></text>
<text class="tt" y="258" font-size="14.5"><tspan x="35.0" textLength="68.7" lengthAdjust="spacing">Meridional</tspan> <tspan x="112.4" textLength="37.3" lengthAdjust="spacing">Winds</tspan> <tspan x="158.1" textLength="34.6" lengthAdjust="spacing">(cold</tspan> <tspan x="200.7" textLength="32.8" lengthAdjust="spacing">side)</tspan></text>
<rect x="149" y="264" width="75" height="168" fill="#fff"/>
<g clip-path="url(#cr2)">
<polygon points="180.0,260.0 178.7,275.5 175.9,284.0 173.0,289.5 168.1,289.8 162.5,289.5 160.4,292.3 159.7,300.8 159.0,316.2 159.3,340.0 159.7,350.2 162.5,353.0 166.7,355.2 170.2,353.0 172.3,348.0 173.8,338.3 175.2,336.9 177.3,337.6 177.7,348.0 176.8,360.8 176.6,372.0 177.3,375.6 181.5,378.4 185.0,372.8 186.4,378.4 188.5,384.0 192.0,387.6 195.5,388.3 198.4,392.5 200.5,396.0 213.1,396.0 216.6,391.8 218.0,388.3 220.9,386.9 223.0,381.2 228.0,378.4 228.0,277.5 223.0,277.5 222.0,293.0 221.6,320.0 221.6,331.2 220.1,332.6 216.6,335.5 213.1,342.5 212.4,352.3 210.3,356.6 204.7,362.2 199.0,366.4 197.4,370.0 194.8,366.4 191.3,359.4 189.2,348.0 187.8,339.7 184.3,334.0 182.2,328.4 180.8,320.0 180.2,316.0 180.8,310.6 182.2,302.2 185.0,293.8 187.1,282.5 188.5,271.2 187.8,260.0" fill="#c6e6ff" stroke="#000" stroke-width="1" stroke-linejoin="bevel"/>
<polygon points="166.0,296.6 163.9,302.2 163.2,316.2 163.9,334.0 165.5,339.0 168.1,341.8 170.5,338.0 172.3,331.2 173.0,325.0 172.3,312.0 170.2,303.6 168.0,298.5" fill="#96d1ff" stroke="#000" stroke-width="1" stroke-linejoin="bevel"/>
<polygon points="167.4,308.5 165.3,312.0 165.3,324.7 166.3,330.0 168.1,333.4 169.8,325.6 170.2,318.0 169.5,311.3" fill="#4aa8ff" stroke="#000" stroke-width="1" stroke-linejoin="bevel"/>
<polygon points="195.5,260.0 196.5,272.0 197.0,278.3 198.0,284.0 199.0,288.0 201.0,291.6 203.5,292.5 206.0,292.3 209.0,289.5 211.0,284.0 212.0,276.0 212.6,260.0" fill="#ffe7ca" stroke="#000" stroke-width="1" stroke-linejoin="bevel"/>
<polygon points="192.7,296.3 190.6,300.0 189.5,305.0 190.4,311.0 192.3,316.2 193.8,311.0 194.6,305.0 194.0,300.0" fill="#ffe7ca" stroke="#000" stroke-width="1" stroke-linejoin="bevel"/>
</g>
<rect x="134" y="264" width="1" height="3" fill="#000"/>
<rect x="134" y="428" width="1" height="3" fill="#000"/>
</g>
<g shape-rendering="crispEdges">
<rect x="439" y="264" width="30" height="167" fill="#a5a5a5"/>
<g clip-path="url(#cl3)">
<polygon points="362.0,266.0 368.2,266.0 368.2,290.0 362.0,292.0" fill="#ffe7ca"/>
<polygon points="370.0,260.0 371.9,272.5 375.0,282.5 378.8,287.0 380.6,288.3 382.0,288.0 382.2,260.0" fill="#c6e6ff" stroke="#000" stroke-width="1" stroke-linejoin="bevel"/>
<polygon points="375.0,260.0 376.2,270.0 378.8,273.8 382.0,276.5 382.2,260.0" fill="#96d1ff" stroke="#000" stroke-width="1" stroke-linejoin="bevel"/>
<polyline points="382.3,260.0 382.3,286.0" fill="none" stroke="#000" stroke-width="1.8" stroke-linejoin="bevel"/>
<polygon points="385.6,260.0 385.0,270.0 383.6,276.0 383.2,285.0 382.6,302.5 381.6,303.0 381.9,307.5 383.5,311.5 384.4,306.2 386.2,301.2 388.8,297.5 388.9,260.0" fill="#ffe7ca" stroke="#000" stroke-width="1" stroke-linejoin="bevel"/>
<polygon points="362.0,314.0 366.0,317.5 367.5,320.0 369.4,321.2 371.9,325.0 373.8,330.0 375.6,332.5 378.8,332.5 380.6,335.6 381.9,342.5 382.5,348.0 386.2,350.0 387.5,352.3 389.4,347.5 390.4,341.2 391.9,346.2 392.5,357.5 392.5,390.0 391.2,393.8 389.4,396.9 384.4,397.4 376.2,396.4 373.8,393.0 372.5,388.8 371.9,386.2 368.8,386.9 367.5,382.5 366.4,377.5 362.0,372.0" fill="#c6e6ff" stroke="#000" stroke-width="1" stroke-linejoin="bevel"/>
<polygon points="385.4,362.2 383.6,366.0 383.0,370.0 383.8,375.0 385.6,379.4 387.0,375.0 387.5,370.0 387.0,366.0" fill="#96d1ff" stroke="#000" stroke-width="1" stroke-linejoin="bevel"/>
<polygon points="443.0,289.2 437.2,289.4 435.5,288.2 430.5,288.2 429.7,289.4 422.2,289.4 420.5,288.2 416.3,289.4 415.0,292.3 413.8,296.5 413.4,324.0 413.8,348.8 415.6,353.8 416.2,355.4 436.2,355.4 438.0,353.8 443.0,353.0" fill="#c6e6ff" stroke="#000" stroke-width="1" stroke-linejoin="bevel"/>
<polygon points="437.2,302.3 436.3,297.3 434.7,295.2 431.3,295.7 428.0,298.2 425.1,301.5 423.0,301.9 421.3,299.4 420.1,296.5 417.2,299.0 416.3,302.3 415.8,309.0 415.6,320.0 415.6,342.5 417.5,346.2 420.6,349.4 422.5,345.0 428.8,342.5 431.9,338.8 433.8,333.8 435.0,330.0 436.2,332.5 437.0,326.0 437.3,316.0" fill="#96d1ff" stroke="#000" stroke-width="1" stroke-linejoin="bevel"/>
<polygon points="418.0,311.5 419.2,308.2 420.5,305.7 421.8,310.7 424.7,313.2 428.0,311.0 430.0,307.0 432.2,306.5 435.0,308.2 436.3,311.5 435.5,314.8 433.0,316.5 431.0,319.0 429.7,322.3 429.4,325.0 428.0,330.0 425.0,335.0 422.5,340.0 420.6,343.0 418.0,338.8 417.0,330.0 417.0,316.0" fill="#5ab4ff" stroke="#000" stroke-width="1" stroke-linejoin="bevel"/>
<polygon points="419.4,311.5 420.8,313.3 421.2,319.0 421.9,321.7 423.4,328.3 422.6,333.3 420.7,338.0 419.0,334.0 418.2,326.0 418.3,317.3" fill="#1f98ff" stroke="#000" stroke-width="1" stroke-linejoin="bevel"/>
<polyline points="438.2,289.5 438.2,353.0" fill="none" stroke="#000" stroke-width="1.4" stroke-linejoin="bevel"/>
<polyline points="437.8,301.7 437.8,316.7" fill="none" stroke="#000" stroke-width="2" stroke-linejoin="bevel"/>
</g>
<rect x="365" y="263" width="180" height="1" fill="#000"/>
<rect x="365" y="431" width="180" height="1" fill="#000"/>
<rect x="365" y="263" width="1" height="169" fill="#000"/>
<rect x="544" y="263" width="1" height="169" fill="#000"/>
<rect x="366" y="263" width="3" height="1" fill="#000"/>
<rect x="540" y="263" width="4" height="1" fill="#000"/>
<rect x="366" y="266" width="2" height="1" fill="#000"/>
<rect x="542" y="266" width="2" height="1" fill="#000"/>
<rect x="366" y="270" width="2" height="1" fill="#000"/>
<rect x="542" y="270" width="2" height="1" fill="#000"/>
<rect x="366" y="273" width="2" height="1" fill="#000"/>
<rect x="542" y="273" width="2" height="1" fill="#000"/>
<rect x="366" y="276" width="2" height="1" fill="#000"/>
<rect x="542" y="276" width="2" height="1" fill="#000"/>
<rect x="366" y="280" width="2" height="1" fill="#000"/>
<rect x="542" y="280" width="2" height="1" fill="#000"/>
<rect x="366" y="283" width="2" height="1" fill="#000"/>
<rect x="542" y="283" width="2" height="1" fill="#000"/>
<rect x="366" y="287" width="2" height="1" fill="#000"/>
<rect x="542" y="287" width="2" height="1" fill="#000"/>
<rect x="366" y="290" width="2" height="1" fill="#000"/>
<rect x="542" y="290" width="2" height="1" fill="#000"/>
<rect x="366" y="293" width="2" height="1" fill="#000"/>
<rect x="542" y="293" width="2" height="1" fill="#000"/>
<rect x="366" y="297" width="3" height="1" fill="#000"/>
<rect x="540" y="297" width="4" height="1" fill="#000"/>
<rect x="366" y="300" width="2" height="1" fill="#000"/>
<rect x="542" y="300" width="2" height="1" fill="#000"/>
<rect x="366" y="303" width="2" height="1" fill="#000"/>
<rect x="542" y="303" width="2" height="1" fill="#000"/>
<rect x="366" y="307" width="2" height="1" fill="#000"/>
<rect x="542" y="307" width="2" height="1" fill="#000"/>
<rect x="366" y="310" width="2" height="1" fill="#000"/>
<rect x="542" y="310" width="2" height="1" fill="#000"/>
<rect x="366" y="313" width="2" height="1" fill="#000"/>
<rect x="542" y="313" width="2" height="1" fill="#000"/>
<rect x="366" y="317" width="2" height="1" fill="#000"/>
<rect x="542" y="317" width="2" height="1" fill="#000"/>
<rect x="366" y="320" width="2" height="1" fill="#000"/>
<rect x="542" y="320" width="2" height="1" fill="#000"/>
<rect x="366" y="323" width="2" height="1" fill="#000"/>
<rect x="542" y="323" width="2" height="1" fill="#000"/>
<rect x="366" y="327" width="2" height="1" fill="#000"/>
<rect x="542" y="327" width="2" height="1" fill="#000"/>
<rect x="366" y="330" width="3" height="1" fill="#000"/>
<rect x="540" y="330" width="4" height="1" fill="#000"/>
<rect x="366" y="334" width="2" height="1" fill="#000"/>
<rect x="542" y="334" width="2" height="1" fill="#000"/>
<rect x="366" y="337" width="2" height="1" fill="#000"/>
<rect x="542" y="337" width="2" height="1" fill="#000"/>
<rect x="366" y="340" width="2" height="1" fill="#000"/>
<rect x="542" y="340" width="2" height="1" fill="#000"/>
<rect x="366" y="344" width="2" height="1" fill="#000"/>
<rect x="542" y="344" width="2" height="1" fill="#000"/>
<rect x="366" y="347" width="2" height="1" fill="#000"/>
<rect x="542" y="347" width="2" height="1" fill="#000"/>
<rect x="366" y="350" width="2" height="1" fill="#000"/>
<rect x="542" y="350" width="2" height="1" fill="#000"/>
<rect x="366" y="354" width="2" height="1" fill="#000"/>
<rect x="542" y="354" width="2" height="1" fill="#000"/>
<rect x="366" y="357" width="2" height="1" fill="#000"/>
<rect x="542" y="357" width="2" height="1" fill="#000"/>
<rect x="366" y="360" width="2" height="1" fill="#000"/>
<rect x="542" y="360" width="2" height="1" fill="#000"/>
<rect x="366" y="364" width="3" height="1" fill="#000"/>
<rect x="540" y="364" width="4" height="1" fill="#000"/>
<rect x="366" y="367" width="2" height="1" fill="#000"/>
<rect x="542" y="367" width="2" height="1" fill="#000"/>
<rect x="366" y="371" width="2" height="1" fill="#000"/>
<rect x="542" y="371" width="2" height="1" fill="#000"/>
<rect x="366" y="374" width="2" height="1" fill="#000"/>
<rect x="542" y="374" width="2" height="1" fill="#000"/>
<rect x="366" y="377" width="2" height="1" fill="#000"/>
<rect x="542" y="377" width="2" height="1" fill="#000"/>
<rect x="366" y="381" width="2" height="1" fill="#000"/>
<rect x="542" y="381" width="2" height="1" fill="#000"/>
<rect x="366" y="384" width="2" height="1" fill="#000"/>
<rect x="542" y="384" width="2" height="1" fill="#000"/>
<rect x="366" y="387" width="2" height="1" fill="#000"/>
<rect x="542" y="387" width="2" height="1" fill="#000"/>
<rect x="366" y="391" width="2" height="1" fill="#000"/>
<rect x="542" y="391" width="2" height="1" fill="#000"/>
<rect x="366" y="394" width="2" height="1" fill="#000"/>
<rect x="542" y="394" width="2" height="1" fill="#000"/>
<rect x="366" y="397" width="3" height="1" fill="#000"/>
<rect x="540" y="397" width="4" height="1" fill="#000"/>
<rect x="366" y="401" width="2" height="1" fill="#000"/>
<rect x="542" y="401" width="2" height="1" fill="#000"/>
<rect x="366" y="404" width="2" height="1" fill="#000"/>
<rect x="542" y="404" width="2" height="1" fill="#000"/>
<rect x="366" y="407" width="2" height="1" fill="#000"/>
<rect x="542" y="407" width="2" height="1" fill="#000"/>
<rect x="366" y="411" width="2" height="1" fill="#000"/>
<rect x="542" y="411" width="2" height="1" fill="#000"/>
<rect x="366" y="414" width="2" height="1" fill="#000"/>
<rect x="542" y="414" width="2" height="1" fill="#000"/>
<rect x="366" y="418" width="2" height="1" fill="#000"/>
<rect x="542" y="418" width="2" height="1" fill="#000"/>
<rect x="366" y="421" width="2" height="1" fill="#000"/>
<rect x="542" y="421" width="2" height="1" fill="#000"/>
<rect x="366" y="424" width="2" height="1" fill="#000"/>
<rect x="542" y="424" width="2" height="1" fill="#000"/>
<rect x="366" y="428" width="2" height="1" fill="#000"/>
<rect x="542" y="428" width="2" height="1" fill="#000"/>
<rect x="366" y="431" width="3" height="1" fill="#000"/>
<rect x="540" y="431" width="4" height="1" fill="#000"/>
<rect x="410" y="264" width="1" height="3" fill="#000"/>
<rect x="410" y="428" width="1" height="3" fill="#000"/>
<rect x="499" y="264" width="1" height="3" fill="#000"/>
<rect x="499" y="428" width="1" height="3" fill="#000"/>
<text y="271" font-size="11.3"><tspan x="341.9" textLength="19.4" lengthAdjust="spacing">110</tspan></text>
<text y="301.1" font-size="11.3"><tspan x="341.9" textLength="19.4" lengthAdjust="spacing">100</tspan></text>
<text y="334.6" font-size="11.3"><tspan x="347.7" textLength="13.6" lengthAdjust="spacing">90</tspan></text>
<text y="368.2" font-size="11.3"><tspan x="347.7" textLength="13.6" lengthAdjust="spacing">80</tspan></text>
<text y="401.6" font-size="11.3"><tspan x="347.7" textLength="13.6" lengthAdjust="spacing">70</tspan></text>
<text y="431.4" font-size="11.3"><tspan x="347.7" textLength="13.6" lengthAdjust="spacing">60</tspan></text>
<text y="447.3" font-size="11.3"><tspan x="352.3" dy="-1" textLength="10.7" lengthAdjust="spacingAndGlyphs">-</tspan><tspan x="362.2" dy="1" textLength="13.7" lengthAdjust="spacing">90</tspan></text>
<text y="447.3" font-size="11.3"><tspan x="406.4" textLength="6.8" lengthAdjust="spacing">0</tspan></text>
<text y="447.3" font-size="11.3"><tspan x="447.7" textLength="13.8" lengthAdjust="spacing">90</tspan></text>
<text y="447.3" font-size="11.3"><tspan x="495.7" textLength="6.8" lengthAdjust="spacing">0</tspan></text>
<text y="447.3" font-size="11.3"><tspan x="531.9" dy="-1" textLength="10.7" lengthAdjust="spacingAndGlyphs">-</tspan><tspan x="541.8" dy="1" textLength="13.7" lengthAdjust="spacing">90</tspan></text>
<text y="461" font-size="11.3"><tspan x="428.8" textLength="16.2" lengthAdjust="spacing">Lat</tspan> <tspan x="451.4" textLength="29.2" lengthAdjust="spacing">(deg)</tspan></text>
<text transform="translate(330.7 384.8) rotate(-90)" y="0" font-size="11.3"><tspan x="0.0" textLength="41.0" lengthAdjust="spacing">Altitude</tspan> <tspan x="48.2" textLength="24.8" lengthAdjust="spacing">(km)</tspan></text>
<text class="tt" y="258" font-size="14.5"><tspan x="371.6" textLength="36.2" lengthAdjust="spacing">Zonal</tspan> <tspan x="416.1" textLength="37.6" lengthAdjust="spacing">Winds</tspan> <tspan x="462.1" textLength="34.8" lengthAdjust="spacing">(cold</tspan> <tspan x="505.2" textLength="33.2" lengthAdjust="spacing">side)</tspan></text>
<rect x="469" y="264" width="75" height="168" fill="#fff"/>
<rect x="543" y="266" width="1" height="1" fill="#000"/>
<rect x="543" y="270" width="1" height="1" fill="#000"/>
<rect x="543" y="273" width="1" height="1" fill="#000"/>
<rect x="543" y="276" width="1" height="1" fill="#000"/>
<rect x="543" y="280" width="1" height="1" fill="#000"/>
<rect x="543" y="283" width="1" height="1" fill="#000"/>
<rect x="543" y="287" width="1" height="1" fill="#000"/>
<rect x="543" y="290" width="1" height="1" fill="#000"/>
<rect x="543" y="293" width="1" height="1" fill="#000"/>
<rect x="543" y="297" width="1" height="1" fill="#000"/>
<rect x="543" y="300" width="1" height="1" fill="#000"/>
<rect x="543" y="303" width="1" height="1" fill="#000"/>
<rect x="543" y="307" width="1" height="1" fill="#000"/>
<rect x="543" y="310" width="1" height="1" fill="#000"/>
<rect x="543" y="313" width="1" height="1" fill="#000"/>
<rect x="543" y="317" width="1" height="1" fill="#000"/>
<rect x="543" y="320" width="1" height="1" fill="#000"/>
<rect x="543" y="323" width="1" height="1" fill="#000"/>
<rect x="543" y="327" width="1" height="1" fill="#000"/>
<rect x="543" y="330" width="1" height="1" fill="#000"/>
<rect x="543" y="334" width="1" height="1" fill="#000"/>
<rect x="543" y="337" width="1" height="1" fill="#000"/>
<rect x="543" y="340" width="1" height="1" fill="#000"/>
<rect x="543" y="344" width="1" height="1" fill="#000"/>
<rect x="543" y="347" width="1" height="1" fill="#000"/>
<rect x="543" y="350" width="1" height="1" fill="#000"/>
<rect x="543" y="354" width="1" height="1" fill="#000"/>
<rect x="543" y="357" width="1" height="1" fill="#000"/>
<rect x="543" y="360" width="1" height="1" fill="#000"/>
<rect x="543" y="364" width="1" height="1" fill="#000"/>
<rect x="543" y="367" width="1" height="1" fill="#000"/>
<rect x="543" y="371" width="1" height="1" fill="#000"/>
<rect x="543" y="374" width="1" height="1" fill="#000"/>
<rect x="543" y="377" width="1" height="1" fill="#000"/>
<rect x="543" y="381" width="1" height="1" fill="#000"/>
<rect x="543" y="384" width="1" height="1" fill="#000"/>
<rect x="543" y="387" width="1" height="1" fill="#000"/>
<rect x="543" y="391" width="1" height="1" fill="#000"/>
<rect x="543" y="394" width="1" height="1" fill="#000"/>
<rect x="543" y="397" width="1" height="1" fill="#000"/>
<rect x="543" y="401" width="1" height="1" fill="#000"/>
<rect x="543" y="404" width="1" height="1" fill="#000"/>
<rect x="543" y="407" width="1" height="1" fill="#000"/>
<rect x="543" y="411" width="1" height="1" fill="#000"/>
<rect x="543" y="414" width="1" height="1" fill="#000"/>
<rect x="543" y="418" width="1" height="1" fill="#000"/>
<rect x="543" y="421" width="1" height="1" fill="#000"/>
<rect x="543" y="424" width="1" height="1" fill="#000"/>
<rect x="543" y="428" width="1" height="1" fill="#000"/>
<g clip-path="url(#cr3)">
<polygon points="493.8,272.7 491.7,274.8 488.9,277.6 487.5,289.5 484.7,291.0 484.4,300.8 486.1,309.2 487.5,320.0 487.5,334.0 489.6,348.8 490.3,346.7 494.2,342.5 495.2,334.0 496.0,327.0 498.5,325.6 498.8,319.0 499.5,309.2 498.8,296.6 497.3,285.3 495.2,276.9" fill="#c6e6ff" stroke="#000" stroke-width="1" stroke-linejoin="bevel"/>
<polygon points="501.8,260.0 502.3,296.6 504.4,298.2 506.5,296.6 507.9,285.3 508.3,268.4 508.0,260.0" fill="#ffe7ca" stroke="#000" stroke-width="1" stroke-linejoin="bevel"/>
<polygon points="512.1,260.0 515.0,269.0 519.1,267.0 520.5,260.0" fill="#c6e6ff" stroke="#000" stroke-width="1" stroke-linejoin="bevel"/>
<polygon points="524.0,260.0 522.0,271.2 518.4,278.3 513.5,286.7 511.4,293.8 510.7,302.2 509.3,310.6 507.9,319.0 507.2,327.0 507.9,334.0 510.7,348.0 512.8,362.2 514.2,366.4 518.4,369.2 521.2,373.0 530.4,374.0 532.5,372.0 535.3,363.6 535.3,348.0 537.4,334.0 541.0,324.2 543.0,320.7 548.0,320.0 548.0,274.0 543.0,274.0 539.5,268.4 535.3,260.0" fill="#ffe7ca" stroke="#000" stroke-width="1" stroke-linejoin="bevel"/>
<polygon points="529.0,266.3 525.5,274.0 522.7,281.0 519.9,288.0 517.7,296.6 516.3,305.0 515.6,316.2 514.9,328.4 517.0,335.5 519.6,341.0 524.0,336.9 529.7,331.2 533.9,325.6 536.7,320.0 539.5,316.2 541.0,306.4 541.0,296.6 538.8,285.3 536.0,276.9 532.5,269.8" fill="#ffd196" stroke="#000" stroke-width="1" stroke-linejoin="bevel"/>
<polygon points="530.4,279.0 527.6,282.5 526.2,291.0 522.7,299.4 521.5,305.0 522.7,310.6 526.9,313.4 531.1,314.1 533.9,312.0 535.3,306.4 536.4,295.2 535.3,285.3 533.2,280.4" fill="#ffb850" stroke="#000" stroke-width="1" stroke-linejoin="bevel"/>
</g>
<rect x="454" y="264" width="1" height="3" fill="#000"/>
<rect x="454" y="428" width="1" height="3" fill="#000"/>
</g>
<g shape-rendering="crispEdges">
<rect x="250" y="23" width="19" height="169" fill="url(#cb)"/>
<rect x="250" y="23" width="19" height="1" fill="#000"/>
<rect x="250" y="191" width="19" height="1" fill="#000"/>
<rect x="250" y="23" width="1" height="169" fill="#000"/>
<rect x="268" y="23" width="1" height="169" fill="#000"/>
<text y="25" font-size="11.3"><tspan x="279.8" textLength="31.5" lengthAdjust="spacing">200.0</tspan></text>
<rect x="263" y="44" width="5" height="1" fill="#000"/>
<text y="46" font-size="11.3"><tspan x="280.8" textLength="30.5" lengthAdjust="spacing">150.0</tspan></text>
<rect x="263" y="65" width="5" height="1" fill="#000"/>
<text y="67" font-size="11.3"><tspan x="280.8" textLength="30.5" lengthAdjust="spacing">100.0</tspan></text>
<rect x="263" y="86" width="5" height="1" fill="#000"/>
<text y="88" font-size="11.3"><tspan x="285.0" textLength="24.3" lengthAdjust="spacing">50.0</tspan></text>
<rect x="263" y="107" width="5" height="1" fill="#000"/>
<text y="109" font-size="11.3"><tspan x="291.0" textLength="17.3" lengthAdjust="spacing">0.0</tspan></text>
<rect x="263" y="128" width="5" height="1" fill="#000"/>
<text y="130" font-size="11.3"><tspan x="279.1" dy="-1" textLength="10.7" lengthAdjust="spacingAndGlyphs">-</tspan><tspan x="289.0" dy="1" textLength="24.8" lengthAdjust="spacing">50.0</tspan></text>
<rect x="263" y="149" width="5" height="1" fill="#000"/>
<text y="151" font-size="11.3"><tspan x="272.7" dy="-1" textLength="10.7" lengthAdjust="spacingAndGlyphs">-</tspan><tspan x="282.6" dy="1" textLength="32.2" lengthAdjust="spacing">100.0</tspan></text>
<rect x="263" y="170" width="5" height="1" fill="#000"/>
<text y="172" font-size="11.3"><tspan x="272.7" dy="-1" textLength="10.7" lengthAdjust="spacingAndGlyphs">-</tspan><tspan x="282.6" dy="1" textLength="32.2" lengthAdjust="spacing">150.0</tspan></text>
<text y="193" font-size="11.3"><tspan x="272.7" dy="-1" textLength="10.7" lengthAdjust="spacingAndGlyphs">-</tspan><tspan x="282.6" dy="1" textLength="32.0" lengthAdjust="spacing">200.0</tspan></text>
<rect x="563" y="23" width="19" height="169" fill="url(#cb)"/>
<rect x="563" y="23" width="19" height="1" fill="#000"/>
<rect x="563" y="191" width="19" height="1" fill="#000"/>
<rect x="563" y="23" width="1" height="169" fill="#000"/>
<rect x="581" y="23" width="1" height="169" fill="#000"/>
<text y="25" font-size="11.3"><tspan x="592.8" textLength="31.5" lengthAdjust="spacing">200.0</tspan></text>
<rect x="576" y="44" width="5" height="1" fill="#000"/>
<text y="46" font-size="11.3"><tspan x="593.8" textLength="30.5" lengthAdjust="spacing">150.0</tspan></text>
<rect x="576" y="65" width="5" height="1" fill="#000"/>
<text y="67" font-size="11.3"><tspan x="593.8" textLength="30.5" lengthAdjust="spacing">100.0</tspan></text>
<rect x="576" y="86" width="5" height="1" fill="#000"/>
<text y="88" font-size="11.3"><tspan x="598.0" textLength="24.3" lengthAdjust="spacing">50.0</tspan></text>
<rect x="576" y="107" width="5" height="1" fill="#000"/>
<text y="109" font-size="11.3"><tspan x="604.0" textLength="17.3" lengthAdjust="spacing">0.0</tspan></text>
<rect x="576" y="128" width="5" height="1" fill="#000"/>
<text y="130" font-size="11.3"><tspan x="592.1" dy="-1" textLength="10.7" lengthAdjust="spacingAndGlyphs">-</tspan><tspan x="602.0" dy="1" textLength="24.8" lengthAdjust="spacing">50.0</tspan></text>
<rect x="576" y="149" width="5" height="1" fill="#000"/>
<text y="151" font-size="11.3"><tspan x="585.7" dy="-1" textLength="10.7" lengthAdjust="spacingAndGlyphs">-</tspan><tspan x="595.6" dy="1" textLength="32.2" lengthAdjust="spacing">100.0</tspan></text>
<rect x="576" y="170" width="5" height="1" fill="#000"/>
<text y="172" font-size="11.3"><tspan x="585.7" dy="-1" textLength="10.7" lengthAdjust="spacingAndGlyphs">-</tspan><tspan x="595.6" dy="1" textLength="32.2" lengthAdjust="spacing">150.0</tspan></text>
<text y="193" font-size="11.3"><tspan x="585.7" dy="-1" textLength="10.7" lengthAdjust="spacingAndGlyphs">-</tspan><tspan x="595.6" dy="1" textLength="32.0" lengthAdjust="spacing">200.0</tspan></text>
<rect x="250" y="263" width="19" height="169" fill="url(#cb)"/>
<rect x="250" y="263" width="19" height="1" fill="#000"/>
<rect x="250" y="431" width="19" height="1" fill="#000"/>
<rect x="250" y="263" width="1" height="169" fill="#000"/>
<rect x="268" y="263" width="1" height="169" fill="#000"/>
<text y="265" font-size="11.3"><tspan x="279.8" textLength="31.5" lengthAdjust="spacing">200.0</tspan></text>
<rect x="263" y="284" width="5" height="1" fill="#000"/>
<text y="286" font-size="11.3"><tspan x="280.8" textLength="30.5" lengthAdjust="spacing">150.0</tspan></text>
<rect x="263" y="305" width="5" height="1" fill="#000"/>
<text y="307" font-size="11.3"><tspan x="280.8" textLength="30.5" lengthAdjust="spacing">100.0</tspan></text>
<rect x="263" y="326" width="5" height="1" fill="#000"/>
<text y="328" font-size="11.3"><tspan x="285.0" textLength="24.3" lengthAdjust="spacing">50.0</tspan></text>
<rect x="263" y="347" width="5" height="1" fill="#000"/>
<text y="349" font-size="11.3"><tspan x="291.0" textLength="17.3" lengthAdjust="spacing">0.0</tspan></text>
<rect x="263" y="368" width="5" height="1" fill="#000"/>
<text y="370" font-size="11.3"><tspan x="279.1" dy="-1" textLength="10.7" lengthAdjust="spacingAndGlyphs">-</tspan><tspan x="289.0" dy="1" textLength="24.8" lengthAdjust="spacing">50.0</tspan></text>
<rect x="263" y="389" width="5" height="1" fill="#000"/>
<text y="391" font-size="11.3"><tspan x="272.7" dy="-1" textLength="10.7" lengthAdjust="spacingAndGlyphs">-</tspan><tspan x="282.6" dy="1" textLength="32.2" lengthAdjust="spacing">100.0</tspan></text>
<rect x="263" y="410" width="5" height="1" fill="#000"/>
<text y="412" font-size="11.3"><tspan x="272.7" dy="-1" textLength="10.7" lengthAdjust="spacingAndGlyphs">-</tspan><tspan x="282.6" dy="1" textLength="32.2" lengthAdjust="spacing">150.0</tspan></text>
<text y="433" font-size="11.3"><tspan x="272.7" dy="-1" textLength="10.7" lengthAdjust="spacingAndGlyphs">-</tspan><tspan x="282.6" dy="1" textLength="32.0" lengthAdjust="spacing">200.0</tspan></text>
<rect x="563" y="263" width="19" height="169" fill="url(#cb)"/>
<rect x="563" y="263" width="19" height="1" fill="#000"/>
<rect x="563" y="431" width="19" height="1" fill="#000"/>
<rect x="563" y="263" width="1" height="169" fill="#000"/>
<rect x="581" y="263" width="1" height="169" fill="#000"/>
<text y="265" font-size="11.3"><tspan x="592.8" textLength="31.5" lengthAdjust="spacing">200.0</tspan></text>
<rect x="576" y="284" width="5" height="1" fill="#000"/>
<text y="286" font-size="11.3"><tspan x="593.8" textLength="30.5" lengthAdjust="spacing">150.0</tspan></text>
<rect x="576" y="305" width="5" height="1" fill="#000"/>
<text y="307" font-size="11.3"><tspan x="593.8" textLength="30.5" lengthAdjust="spacing">100.0</tspan></text>
<rect x="576" y="326" width="5" height="1" fill="#000"/>
<text y="328" font-size="11.3"><tspan x="598.0" textLength="24.3" lengthAdjust="spacing">50.0</tspan></text>
<rect x="576" y="347" width="5" height="1" fill="#000"/>
<text y="349" font-size="11.3"><tspan x="604.0" textLength="17.3" lengthAdjust="spacing">0.0</tspan></text>
<rect x="576" y="368" width="5" height="1" fill="#000"/>
<text y="370" font-size="11.3"><tspan x="592.1" dy="-1" textLength="10.7" lengthAdjust="spacingAndGlyphs">-</tspan><tspan x="602.0" dy="1" textLength="24.8" lengthAdjust="spacing">50.0</tspan></text>
<rect x="576" y="389" width="5" height="1" fill="#000"/>
<text y="391" font-size="11.3"><tspan x="585.7" dy="-1" textLength="10.7" lengthAdjust="spacingAndGlyphs">-</tspan><tspan x="595.6" dy="1" textLength="32.2" lengthAdjust="spacing">100.0</tspan></text>
<rect x="576" y="410" width="5" height="1" fill="#000"/>
<text y="412" font-size="11.3"><tspan x="585.7" dy="-1" textLength="10.7" lengthAdjust="spacingAndGlyphs">-</tspan><tspan x="595.6" dy="1" textLength="32.2" lengthAdjust="spacing">150.0</tspan></text>
<text y="433" font-size="11.3"><tspan x="585.7" dy="-1" textLength="10.7" lengthAdjust="spacingAndGlyphs">-</tspan><tspan x="595.6" dy="1" textLength="32.0" lengthAdjust="spacing">200.0</tspan></text>
<text y="470.5" font-size="11.3"><tspan x="288.5" textLength="49.2" lengthAdjust="spacing">2004342</tspan> <tspan x="344.8" textLength="13.0" lengthAdjust="spacing">bb</tspan> <tspan x="363.6" textLength="38.8" lengthAdjust="spacing">v03r03</tspan> <tspan x="416.7" textLength="23.6" lengthAdjust="spacing">Beta</tspan> <tspan x="446.8" textLength="33.0" lengthAdjust="spacing">Angle:</tspan> <tspan x="485.8" textLength="44.6" lengthAdjust="spacing">39.1131</tspan></text>
</g>
</svg></body></html>
